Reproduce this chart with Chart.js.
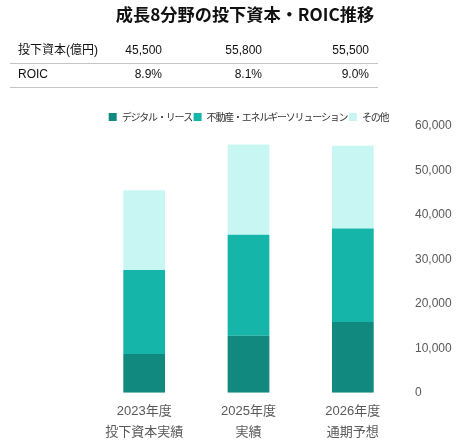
<!DOCTYPE html>
<html>
<head>
<meta charset="utf-8">
<script src="https://cdn.jsdelivr.net/npm/chart.js@4"></script>
<style>
  html, body { margin: 0; padding: 0; background: #fff; }
  #wrap { position: relative; width: 457px; height: 446px; overflow: hidden; font-family: "Liberation Sans", "Noto Sans CJK JP", sans-serif; color: #111; }
  #c { position: absolute; left: 0; top: 0; }
  .t { position: absolute; white-space: nowrap; }
  #title { left: 0; width: 490px; top: 2px; text-align: center; font-family: "Noto Sans CJK JP", sans-serif; font-weight: bold; font-size: 17.2px; line-height: 24px; color: #111; }
  .cell { position: absolute; font-size: 12px; line-height: 16px; white-space: nowrap; }
  .num { text-align: right; width: 80px; }
  .rule { position: absolute; left: 10px; width: 368px; height: 1px; background: #c4c4c4; }
</style>
</head>
<body>
<div id="wrap">
  <canvas id="c" width="457" height="446"></canvas>
  <div id="title" class="t"></div>
  <div id="table"></div>
</div>
<script>
const chartTitle = '成長8分野の投下資本・ROIC推移';
const categories = [['2023年度', '投下資本実績'], ['2025年度', '実績'], ['2026年度', '通期予想']];
const seriesNames = ['デジタル・リース', '不動産・エネルギーソリューション', 'その他'];
const digitalLease = [8700, 12800, 15900];
const realEstateEnergy = [18900, 22700, 21000];
const others = [17900, 20300, 18600];
const tableRowLabels = ['投下資本(億円)', 'ROIC'];
const investedCapital = ['45,500', '55,800', '55,500'];
const roic = ['8.9%', '8.1%', '9.0%'];
const yTicks = [0, 10000, 20000, 30000, 40000, 50000, 60000];

document.getElementById('title').textContent = chartTitle;

// table
const table = document.getElementById('table');
const rowsData = [investedCapital, roic];
const rowTops = [42, 66];
const colRights = [162, 262, 369];
rowsData.forEach((vals, r) => {
  const lab = document.createElement('div');
  lab.className = 'cell';
  lab.style.left = '18px';
  lab.style.top = rowTops[r] + 'px';
  lab.textContent = tableRowLabels[r];
  table.appendChild(lab);
  vals.forEach((v, i) => {
    const d = document.createElement('div');
    d.className = 'cell num';
    d.style.left = (colRights[i] - 80) + 'px';
    d.style.top = rowTops[r] + 'px';
    d.textContent = v;
    table.appendChild(d);
  });
});
[63, 87].forEach(y => {
  const l = document.createElement('div');
  l.className = 'rule';
  l.style.top = y + 'px';
  table.appendChild(l);
});

const legendSpacing = {
  id: 'legendSpacing',
  beforeLayout(chart) {
    const lg = chart.legend;
    if (lg && !lg._patched) {
      lg._patched = true;
      const of = lg.fit.bind(lg);
      const od = lg.draw.bind(lg);
      lg.fit = function () {
        const c = this.ctx; c.save(); c.letterSpacing = '-1.2px'; of(); c.restore();
        this.height = this.height - 6.3;
      };
      lg.draw = function () { const c = this.ctx; c.save(); c.letterSpacing = '-1.2px'; od(); c.restore(); };
    }
  }
};

new Chart(document.getElementById('c'), {
  type: 'bar',
  data: {
    labels: categories,
    datasets: [
      { label: seriesNames[0], data: digitalLease, backgroundColor: '#12897f' },
      { label: seriesNames[1], data: realEstateEnergy, backgroundColor: '#15b5aa' },
      { label: seriesNames[2], data: others, backgroundColor: '#c8f7f3' }
    ]
  },
  options: {
    responsive: false,
    animation: false,
    devicePixelRatio: 1,
    layout: { padding: { top: 110.5, left: 92, right: 5, bottom: 2 } },
    datasets: { bar: { barPercentage: 0.4, categoryPercentage: 1 } },
    plugins: {
      title: { display: false },
      tooltip: { enabled: false },
      legend: {
        position: 'top',
        align: 'center',
        fullSize: false,
        labels: {
          boxWidth: 8,
          boxHeight: 8,
          padding: 1.5,
          color: '#333',
          font: { family: '"Noto Sans CJK JP", sans-serif', size: 10 }
        }
      }
    },
    scales: {
      x: {
        stacked: true,
        grid: { display: false, drawTicks: false },
        border: { display: false },
        afterFit(scale) { scale.height = 51.3; },
        ticks: {
          padding: 8,
          color: '#595959',
          font: { family: '"Liberation Sans", "Noto Sans CJK JP", sans-serif', size: 13, lineHeight: 1.64 }
        }
      },
      y: {
        stacked: true,
        position: 'right',
        min: 0,
        max: 60000,
        afterBuildTicks(scale) { scale.ticks = yTicks.map(v => ({ value: v })); },
        afterFit(scale) { scale.width = 47; },
        grid: { display: false, drawTicks: false },
        border: { display: false },
        ticks: {
          padding: 10,
          color: '#595959',
          font: { family: '"Liberation Sans", sans-serif', size: 12 },
          callback: v => v.toLocaleString('en-US')
        }
      }
    }
  },
  plugins: [legendSpacing]
});
</script>
</body>
</html>
